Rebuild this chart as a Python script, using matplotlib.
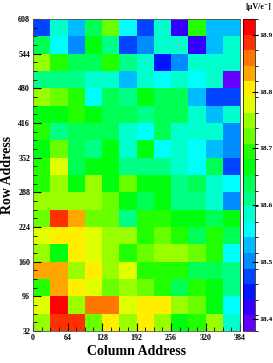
import colorsys
import numpy as np
import matplotlib
matplotlib.use("Agg")
import matplotlib.pyplot as plt
from matplotlib.colors import ListedColormap, BoundaryNorm
from matplotlib.ticker import MultipleLocator

plt.rcParams['font.family'] = ['Liberation Serif', 'DejaVu Serif']
plt.rcParams['font.weight'] = 'bold'

# cell edges (12 x 18 cells of 32 pixels)
col_edges = np.arange(0, 385, 32)
row_edges = np.arange(32, 609, 32)

# conversion gain per cell [uV/e-], rows from address 32 upward
row_032 = [18.75, 18.89, 18.89, 18.72, 18.80, 18.75, 18.80, 18.75, 18.67, 18.69, 18.75, 18.58]
row_064 = [18.78, 18.91, 18.75, 18.86, 18.86, 18.78, 18.80, 18.80, 18.75, 18.72, 18.67, 18.56]
row_096 = [18.69, 18.83, 18.80, 18.78, 18.72, 18.75, 18.72, 18.69, 18.64, 18.69, 18.67, 18.61]
row_128 = [18.83, 18.83, 18.75, 18.80, 18.75, 18.78, 18.69, 18.69, 18.69, 18.64, 18.64, 18.61]
row_160 = [18.75, 18.67, 18.80, 18.78, 18.75, 18.69, 18.72, 18.75, 18.75, 18.72, 18.69, 18.56]
row_192 = [18.78, 18.80, 18.80, 18.78, 18.75, 18.75, 18.69, 18.72, 18.69, 18.64, 18.69, 18.64]
row_224 = [18.72, 18.89, 18.83, 18.72, 18.72, 18.61, 18.69, 18.69, 18.67, 18.67, 18.64, 18.67]
row_256 = [18.75, 18.75, 18.75, 18.75, 18.72, 18.67, 18.64, 18.67, 18.61, 18.61, 18.58, 18.50]
row_288 = [18.69, 18.75, 18.67, 18.75, 18.67, 18.72, 18.67, 18.67, 18.61, 18.64, 18.58, 18.56]
row_320 = [18.69, 18.78, 18.64, 18.67, 18.67, 18.61, 18.61, 18.61, 18.58, 18.56, 18.64, 18.47]
row_352 = [18.67, 18.72, 18.64, 18.61, 18.67, 18.58, 18.67, 18.56, 18.58, 18.56, 18.53, 18.50]
row_384 = [18.69, 18.61, 18.64, 18.64, 18.64, 18.58, 18.56, 18.64, 18.58, 18.58, 18.58, 18.50]
row_416 = [18.67, 18.67, 18.69, 18.67, 18.64, 18.64, 18.61, 18.64, 18.64, 18.58, 18.53, 18.58]
row_448 = [18.75, 18.72, 18.69, 18.56, 18.64, 18.61, 18.67, 18.64, 18.64, 18.53, 18.47, 18.47]
row_480 = [18.61, 18.61, 18.61, 18.58, 18.58, 18.53, 18.58, 18.56, 18.58, 18.56, 18.58, 18.39]
row_512 = [18.75, 18.69, 18.64, 18.64, 18.69, 18.61, 18.58, 18.45, 18.50, 18.58, 18.58, 18.58]
row_544 = [18.64, 18.56, 18.50, 18.67, 18.61, 18.47, 18.50, 18.58, 18.58, 18.42, 18.53, 18.58]
row_576 = [18.47, 18.58, 18.53, 18.64, 18.72, 18.56, 18.47, 18.58, 18.42, 18.69, 18.53, 18.53]

z = np.array([row_032, row_064, row_096, row_128, row_160, row_192,
              row_224, row_256, row_288, row_320, row_352, row_384,
              row_416, row_448, row_480, row_512, row_544, row_576])

zmin, zmax = 18.378, 18.928
ncont = 20

# ROOT "pretty" palette (50 colours, hue 280 -> 0), sampled for 20 contours
palette = []
for i in range(50):
    hue = 280 - (i + 1) * 280 / 50
    palette.append(colorsys.hls_to_rgb(hue / 360, 0.5, 1.0))
colors = [palette[int((k + 0.99) * 50 / ncont)] for k in range(ncont)]
cmap = ListedColormap(colors)
norm = BoundaryNorm(np.linspace(zmin, zmax, ncont + 1), ncont)

fig = plt.figure(figsize=(2.73, 3.63), dpi=100)
ax = fig.add_axes([33 / 273, 32 / 363, 207 / 273, 312 / 363])
cax = fig.add_axes([243.3 / 273, 32 / 363, 12 / 273, 312 / 363])

mesh = ax.pcolormesh(col_edges, row_edges, z, cmap=cmap, norm=norm)
ax.set_xlim(0, 384)
ax.set_ylim(32, 608)

ax.xaxis.set_major_locator(MultipleLocator(64))
ax.xaxis.set_minor_locator(MultipleLocator(16))
ax.set_yticks(np.arange(32, 609, 64))
ax.yaxis.set_minor_locator(MultipleLocator(16))
ax.tick_params(which='both', direction='in', labelsize=5.8, color='black')
ax.tick_params(which='major', length=6, width=0.8, pad=2)
ax.tick_params(which='minor', length=3, width=0.6)
for lab in ax.get_xticklabels() + ax.get_yticklabels():
    lab.set_fontweight('bold')
for s in ax.spines.values():
    s.set_linewidth(0.6)
    s.set_color('#555555')

ax.set_xlabel("Column Address", fontsize=10, fontweight='bold', labelpad=2)
ax.set_ylabel("Row Address", fontsize=10, fontweight='bold', labelpad=3)

cb = fig.colorbar(mesh, cax=cax, ticks=[18.4, 18.5, 18.6, 18.7, 18.8, 18.9])
cb.outline.set_linewidth(0.5)
cax.tick_params(direction='inout', length=4, width=0.8, labelsize=5.4, pad=1)
for lab in cax.get_yticklabels():
    lab.set_fontweight('bold')
fig.text(271 / 273, 1 - 7 / 363, "[μV/e⁻]", fontsize=5.8, fontweight='bold',
         ha='right', va='center')

fig.savefig("out.png", dpi=100)
